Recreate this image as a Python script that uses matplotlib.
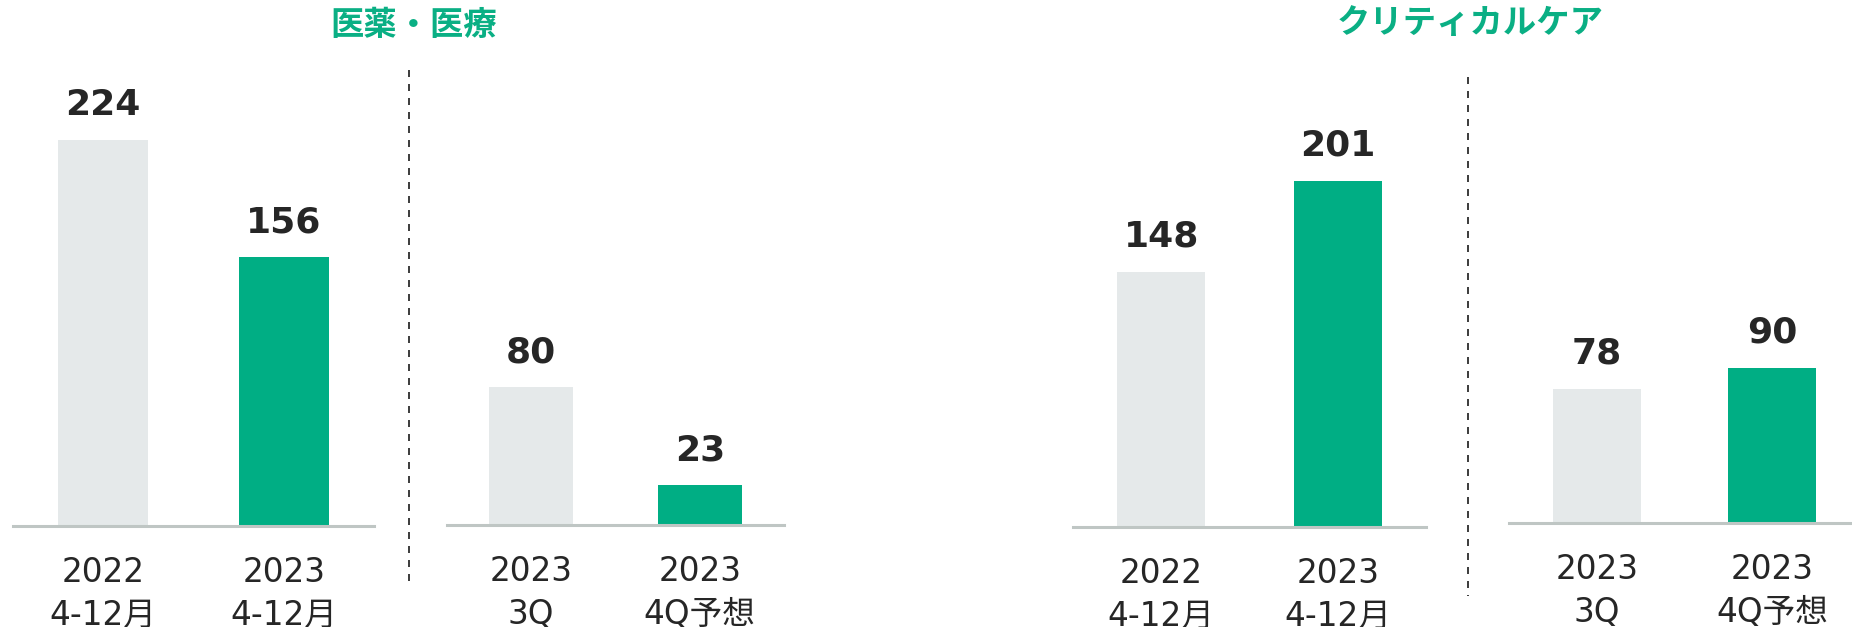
import matplotlib
matplotlib.use("Agg")
import matplotlib.pyplot as plt
from matplotlib.lines import Line2D

# Donnees
TITLE_LEFT = "医薬・医療"
TITLE_RIGHT = "クリティカルケア"

CAT_YEAR = ["2022\n4-12月", "2023\n4-12月"]
CAT_QUARTER = ["2023\n3Q", "2023\n4Q予想"]

PHARMA_YEAR = [224, 156]
PHARMA_QUARTER = [80, 23]
CRITICAL_YEAR = [148, 201]
CRITICAL_QUARTER = [78, 90]

GREY = "#e5e9ea"
GREEN = "#00ae84"
BASE = "#bfc6c4"
DARK = "#262626"
TITLE_GREEN = "#0aaf84"

W, H, DPI = 1852, 627, 100
PX_PER_UNIT = 1.723   # echelle commune a tous les panneaux
TOP_PX = 40

# panneaux : (gauche px, droite px, ligne de base px, valeurs, categories)
PANELS = [
    (13, 374, 526, PHARMA_YEAR, CAT_YEAR),
    (447, 784, 525, PHARMA_QUARTER, CAT_QUARTER),
    (1073, 1426, 527, CRITICAL_YEAR, CAT_YEAR),
    (1509, 1860, 523, CRITICAL_QUARTER, CAT_QUARTER),
]

LABEL_FONT = ["DejaVu Sans", "Noto Sans CJK JP"]

fig = plt.figure(figsize=(W / DPI, H / DPI), dpi=DPI)

for left, right, base, vals, cats in PANELS:
    ax = fig.add_axes([left / W, 1 - base / H, (right - left) / W, (base - TOP_PX) / H])
    ax.set_xlim(-0.5, 1.5)
    ax.set_ylim(0, (base - TOP_PX) / PX_PER_UNIT)
    ax.bar([0, 1], vals, width=0.5, color=[GREY, GREEN], zorder=2)
    for x, v in zip([0, 1], vals):
        ax.annotate(str(v), (x, v), xytext=(0, 18), textcoords="offset points",
                    ha="center", va="baseline", fontsize=26, fontweight="bold",
                    color=DARK, family="DejaVu Sans")
    for s in ["top", "right", "left"]:
        ax.spines[s].set_visible(False)
    ax.spines["bottom"].set_color(BASE)
    ax.spines["bottom"].set_linewidth(2.2)
    ax.set_yticks([])
    ax.set_xticks([0, 1])
    ax.set_xticklabels(cats, family=LABEL_FONT, fontsize=23.5, color=DARK, linespacing=1.4)
    ax.tick_params(axis="x", length=0, pad=21.5)
    ax.patch.set_visible(False)

fig.text(414 / W, 1 - 26 / H, TITLE_LEFT, ha="center", va="center", fontsize=24,
         fontweight="bold", color=TITLE_GREEN, family="Noto Sans CJK JP")
fig.text(1470 / W, 1 - 24 / H, TITLE_RIGHT, ha="center", va="center", fontsize=24,
         fontweight="bold", color=TITLE_GREEN, family="Noto Sans CJK JP")

# separateurs pointilles
for x, y0, y1 in [(409, 70, 588), (1468, 77, 596)]:
    fig.add_artist(Line2D([x / W, x / W], [1 - y0 / H, 1 - y1 / H], transform=fig.transFigure,
                          color="#404040", lw=1.44, linestyle=(0, (3.5, 3.5))))

fig.savefig("out.png", dpi=DPI)
